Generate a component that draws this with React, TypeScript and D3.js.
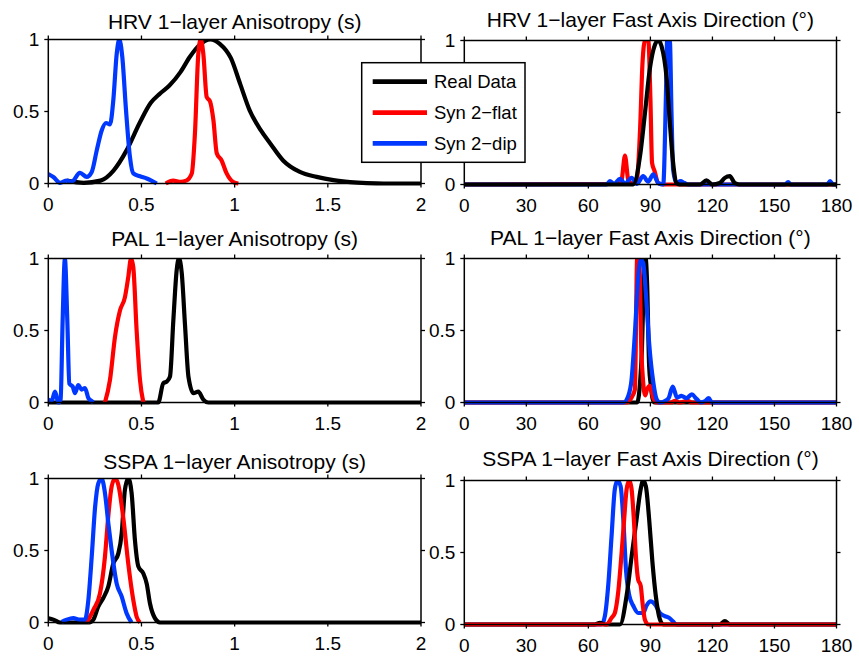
import React from 'react';
import * as d3 from 'd3';

type Pt = [number, number];

// ---------- tick labels / categories ----------
const aniTicks = [0, 0.5, 1, 1.5, 2];
const dirTicks = [0, 30, 60, 90, 120, 150, 180];
const yTicks = [0, 0.5, 1];
const legendLabels = ['Real Data', 'Syn 2\u2212flat', 'Syn 2\u2212dip'];
const stations = ['HRV', 'PAL', 'SSPA'];

// ---------- HRV anisotropy (s) ----------
const hrvAniReal: Pt[] = [[0.1,0.02],[0.19,0.005],[0.28,0.02],[0.35,0.09],[0.42,0.23],[0.49,0.42],[0.55,0.56],[0.6,0.625],[0.65,0.68],[0.71,0.775],[0.76,0.88],[0.81,0.96],[0.87,1.0],[0.92,0.97],[0.98,0.87],[1.03,0.69],[1.08,0.51],[1.14,0.37],[1.19,0.28],[1.26,0.16],[1.35,0.08],[1.44,0.046],[1.53,0.023],[1.62,0.01],[1.71,0.003],[1.8,0],[2.0,0]];
const hrvAniFlat: Pt[] = [[0.63,0],[0.67,0.02],[0.71,0.012],[0.74,0.02],[0.77,0.07],[0.787,0.35],[0.805,0.9],[0.818,1.0],[0.832,0.9],[0.85,0.6],[0.868,0.57],[0.886,0.44],[0.904,0.21],[0.93,0.16],[0.957,0.07],[0.993,0.01],[1.02,0]];
const hrvAniDip: Pt[] = [[0,0.065],[0.027,0.045],[0.063,0.005],[0.099,0.02],[0.125,0.012],[0.17,0.074],[0.206,0.046],[0.233,0.08],[0.26,0.23],[0.287,0.37],[0.31,0.42],[0.331,0.41],[0.349,0.58],[0.367,0.9],[0.381,1.0],[0.397,0.88],[0.417,0.51],[0.438,0.185],[0.456,0.07],[0.492,0.05],[0.528,0.035],[0.582,0]];

// ---------- PAL anisotropy (s) ----------
const palAniReal: Pt[] = [[0,0],[0.59,0],[0.617,0.134],[0.635,0.145],[0.653,0.18],[0.671,0.57],[0.689,0.92],[0.701,1.0],[0.716,0.9],[0.734,0.53],[0.752,0.18],[0.779,0.065],[0.805,0.076],[0.832,0.02],[0.859,0],[2,0]];
const palAniFlat: Pt[] = [[0.304,0],[0.331,0.157],[0.358,0.457],[0.385,0.64],[0.411,0.73],[0.429,0.87],[0.444,1.0],[0.456,0.94],[0.474,0.5],[0.492,0.157],[0.51,0]];
const palAniDip: Pt[] = [[0,0.02],[0.018,0.01],[0.036,0.076],[0.054,0],[0.066,0.02],[0.077,0.57],[0.089,1.0],[0.102,0.57],[0.113,0.13],[0.131,0.11],[0.143,0.065],[0.161,0.12],[0.179,0.09],[0.197,0.1],[0.215,0.03],[0.233,0.01],[0.242,0]];

// ---------- SSPA anisotropy (s) ----------
const sspaAniReal: Pt[] = [[0,0.03],[0.027,0.02],[0.063,0],[0.22,0],[0.242,0.02],[0.268,0.11],[0.295,0.17],[0.322,0.25],[0.349,0.41],[0.376,0.48],[0.394,0.62],[0.411,0.92],[0.429,1.0],[0.447,0.9],[0.465,0.57],[0.483,0.39],[0.51,0.34],[0.528,0.27],[0.546,0.13],[0.572,0.03],[0.599,0],[2,0]];
const sspaAniFlat: Pt[] = [[0.206,0],[0.242,0.088],[0.277,0.2],[0.304,0.457],[0.322,0.74],[0.34,0.945],[0.358,1.0],[0.376,0.955],[0.403,0.72],[0.429,0.41],[0.456,0.157],[0.474,0.04],[0.492,0]];
const sspaAniDip: Pt[] = [[0.072,0.005],[0.099,0.02],[0.134,0.03],[0.17,0.02],[0.197,0.02],[0.215,0.157],[0.233,0.457],[0.251,0.8],[0.268,0.965],[0.286,1.0],[0.304,0.9],[0.322,0.69],[0.34,0.5],[0.367,0.27],[0.394,0.18],[0.42,0.065],[0.447,0]];

// ---------- HRV fast axis direction (deg) ----------
const hrvDirReal: Pt[] = [[0,0],[81.7,0],[85.0,0.2],[87.4,0.5],[89.7,0.8],[92.2,0.97],[93.8,1.0],[95.4,0.96],[97.9,0.73],[99.4,0.43],[101.0,0.15],[102.6,0.01],[104,0],[114,0],[117.1,0.028],[120,0],[123.5,0.01],[126,0.046],[128.4,0.058],[130.8,0.01],[133,0],[180,0]];
const hrvDirFlat: Pt[] = [[0,0],[75.3,0.005],[76.1,0.03],[77.7,0.2],[79.3,0.03],[80.5,0.01],[82.5,0.015],[83.6,0.05],[85.0,0.38],[86.2,0.85],[87.4,1.0],[89.0,1.0],[90.0,0.6],[90.8,0.15],[92.1,0.09],[93.7,0.01],[96,0],[180,0]];
const hrvDirDip: Pt[] = [[0,0],[68.8,0],[70.4,0.023],[72.5,0.005],[75.3,0.04],[77.7,0.005],[80.9,0.046],[83.5,0.005],[86.5,0.058],[88.9,0.02],[91.4,0.07],[93.8,0.01],[96.2,0],[97.5,0.61],[98.1,1.0],[99.4,1.0],[100.2,0.5],[101.0,0.1],[102.6,0.01],[104.5,0.023],[106.5,0.01],[108.3,0],[155,0],[156.6,0.016],[158,0],[175.5,0],[176.9,0.023],[178.3,0],[180,0]];

// ---------- PAL fast axis direction (deg) ----------
const palDirReal: Pt[] = [[0,0],[83.6,0],[85.0,0.14],[85.9,0.37],[86.8,0.83],[87.7,1.0],[88.4,0.83],[89.4,0.25],[90.2,0.12],[91.0,0.03],[92,0],[180,0]];
const palDirFlat: Pt[] = [[0,0],[78.6,0],[80.9,0.035],[82.5,0.09],[83.6,1.0],[84.6,1.0],[85.6,0.37],[86.5,0.14],[87.5,0.05],[88.4,0.09],[89.7,0.115],[91.4,0.03],[93,0],[100,0],[102,0.012],[104,0],[108,0.012],[110,0],[180,0]];
const palDirDip: Pt[] = [[0,0],[76.9,0],[79.3,0.046],[80.9,0.16],[82.5,0.48],[84.1,0.87],[85.3,0.99],[86.5,0.97],[87.8,0.76],[89.4,0.41],[91.4,0.14],[93.0,0.023],[94.6,0],[97.0,0.01],[98.8,0.03],[100.8,0.11],[102.9,0.034],[105.0,0.046],[107.5,0.03],[110.0,0.057],[112.3,0.025],[114.5,0],[116.5,0.01],[118.2,0.03],[119.8,0],[180,0]];

// ---------- SSPA fast axis direction (deg) ----------
const sspaDirReal: Pt[] = [[0,0],[63,0],[65.6,0.012],[68,0],[75.3,0],[78.5,0.2],[80.9,0.47],[83.3,0.73],[85.3,0.94],[86.5,1.0],[87.8,0.96],[89.4,0.73],[91.0,0.43],[92.6,0.2],[94.6,0.035],[96.2,0],[123.6,0],[126.0,0.023],[128.4,0],[180,0]];
const sspaDirFlat: Pt[] = [[0,0],[68.8,0],[71.2,0.046],[72.8,0.08],[74.4,0.22],[76.1,0.5],[77.3,0.73],[78.5,0.94],[79.8,1.0],[80.9,0.94],[82.0,0.73],[83.0,0.47],[84.1,0.31],[85.3,0.27],[86.2,0.15],[87.3,0.035],[89.0,0],[180,0]];
const sspaDirDip: Pt[] = [[0,0],[66.4,0],[68.0,0.06],[69.6,0.27],[71.2,0.61],[72.8,0.94],[74.1,1.0],[75.6,0.96],[76.9,0.73],[78.2,0.38],[79.8,0.2],[81.7,0.13],[84.1,0.08],[86.5,0.08],[88.1,0.13],[90.1,0.16],[92.2,0.14],[94.6,0.08],[97.0,0.058],[99.1,0.046],[101.0,0.02],[102.6,0],[180,0]];

const COLORS = { real: '#000000', flat: '#ff0000', dip: '#0038ff' };
const FONT = '"Liberation Sans", Arial, Helvetica, sans-serif';

type Series = { key: 'real' | 'flat' | 'dip'; data: Pt[] };

interface PanelProps {
  id: string;
  x0: number; x1: number; y0: number; y1: number;
  domain: [number, number];
  ticks: number[];
  title: string;
  titleY: number;
  series: Series[];
  hiddenYLabels?: number[];
}

function Panel({ id, x0, x1, y0, y1, domain, ticks, title, titleY, series, hiddenYLabels = [] }: PanelProps) {
  const xs = d3.scaleLinear().domain(domain).range([x0, x1]);
  const ys = d3.scaleLinear().domain([0, 1]).range([y1, y0]);
  const line = d3.line<Pt>().x(d => xs(d[0])).y(d => ys(d[1])).curve(d3.curveMonotoneX);
  const tl = 4;
  return (
    <g>
      <defs>
        <clipPath id={id}>
          <rect x={x0} y={y0} width={x1 - x0} height={y1 - y0 + 6} />
        </clipPath>
      </defs>
      <g clipPath={`url(#${id})`}>
        {series.map((s, i) => (
          <path key={i} d={line(s.data) || ''} fill="none" stroke={COLORS[s.key]} strokeWidth={4.2}
            strokeLinejoin="round" strokeLinecap="butt" />
        ))}
      </g>
      <rect x={x0} y={y0} width={x1 - x0} height={y1 - y0} fill="none" stroke="#000" strokeWidth={1.5} />
      {ticks.map(t => (
        <g key={'x' + t}>
          <line x1={xs(t)} x2={xs(t)} y1={y1} y2={y1 + tl} stroke="#000" strokeWidth={1.3} />
          <line x1={xs(t)} x2={xs(t)} y1={y0} y2={y0 - tl} stroke="#000" strokeWidth={1.3} />
          <text x={xs(t)} y={y1 + 27.5} textAnchor="middle" fontSize={19} fontFamily={FONT} fill="#000">{String(t)}</text>
        </g>
      ))}
      {yTicks.map(t => (
        <g key={'y' + t}>
          <line x1={x0} x2={x0 - tl} y1={ys(t)} y2={ys(t)} stroke="#000" strokeWidth={1.3} />
          <line x1={x1} x2={x1 + tl} y1={ys(t)} y2={ys(t)} stroke="#000" strokeWidth={1.3} />
          {hiddenYLabels.indexOf(t) < 0 && (
            <text x={x0 - 9} y={ys(t) + 6.8} textAnchor="end" fontSize={19} fontFamily={FONT} fill="#000">{String(t)}</text>
          )}
        </g>
      ))}
      <text x={(x0 + x1) / 2} y={titleY} textAnchor="middle" fontSize={21} fontFamily={FONT} fill="#000">{title}</text>
    </g>
  );
}

export default function App() {
  const L = { x0: 48.3, x1: 421 };
  const R = { x0: 464.3, x1: 836.5 };
  const rowsL = [[39.5, 183.5, 29.3], [258.5, 402.5, 246], [478.5, 622.5, 468.5]];
  const rowsR = [[40.5, 184.5, 27], [258.5, 402.5, 245], [480.5, 624.5, 465.5]];

  const aniSeries: Series[][] = [
    [{ key: 'real', data: hrvAniReal }, { key: 'flat', data: hrvAniFlat }, { key: 'dip', data: hrvAniDip }],
    [{ key: 'real', data: palAniReal }, { key: 'flat', data: palAniFlat }, { key: 'dip', data: palAniDip }],
    [{ key: 'real', data: sspaAniReal }, { key: 'flat', data: sspaAniFlat }, { key: 'dip', data: sspaAniDip }],
  ];
  const dirSeries: Series[][] = [
    [{ key: 'flat', data: hrvDirFlat }, { key: 'dip', data: hrvDirDip }, { key: 'real', data: hrvDirReal }],
    [{ key: 'real', data: palDirReal }, { key: 'flat', data: palDirFlat }, { key: 'dip', data: palDirDip }],
    [{ key: 'dip', data: sspaDirDip }, { key: 'real', data: sspaDirReal }, { key: 'flat', data: sspaDirFlat }],
  ];

  const legendKeys: ('real' | 'flat' | 'dip')[] = ['real', 'flat', 'dip'];
  const legendRows = [81.7, 112.7, 143.3];

  return (
    <svg width={859} height={656} style={{ position: 'absolute', left: 0, top: 0, background: '#fff' }}>
      <rect x={0} y={0} width={859} height={656} fill="#fff" />
      {stations.map((s, i) => (
        <Panel key={'a' + i} id={'ca' + i} x0={L.x0} x1={L.x1} y0={rowsL[i][0]} y1={rowsL[i][1]}
          domain={[0, 2]} ticks={aniTicks} title={`${s} 1\u2212layer Anisotropy (s)`} titleY={rowsL[i][2]}
          series={aniSeries[i]} />
      ))}
      {stations.map((s, i) => (
        <Panel key={'d' + i} id={'cd' + i} x0={R.x0} x1={R.x1} y0={rowsR[i][0]} y1={rowsR[i][1]}
          domain={[0, 180]} ticks={dirTicks} title={`${s} 1\u2212layer Fast Axis Direction (\u00b0)`} titleY={rowsR[i][2]}
          series={dirSeries[i]} hiddenYLabels={i === 0 ? [0.5] : []} />
      ))}
      <g>
        <rect x={361.7} y={62.7} width={163.3} height={99.6} fill="#fff" stroke="#000" strokeWidth={1.5} />
        {legendKeys.map((k, i) => (
          <g key={k}>
            <line x1={372.7} x2={427} y1={legendRows[i]} y2={legendRows[i]} stroke={COLORS[k]} strokeWidth={4.8} />
            <text x={434} y={legendRows[i] + 6.5} fontSize={18.5} fontFamily={FONT} fill="#000">{legendLabels[i]}</text>
          </g>
        ))}
      </g>
    </svg>
  );
}
